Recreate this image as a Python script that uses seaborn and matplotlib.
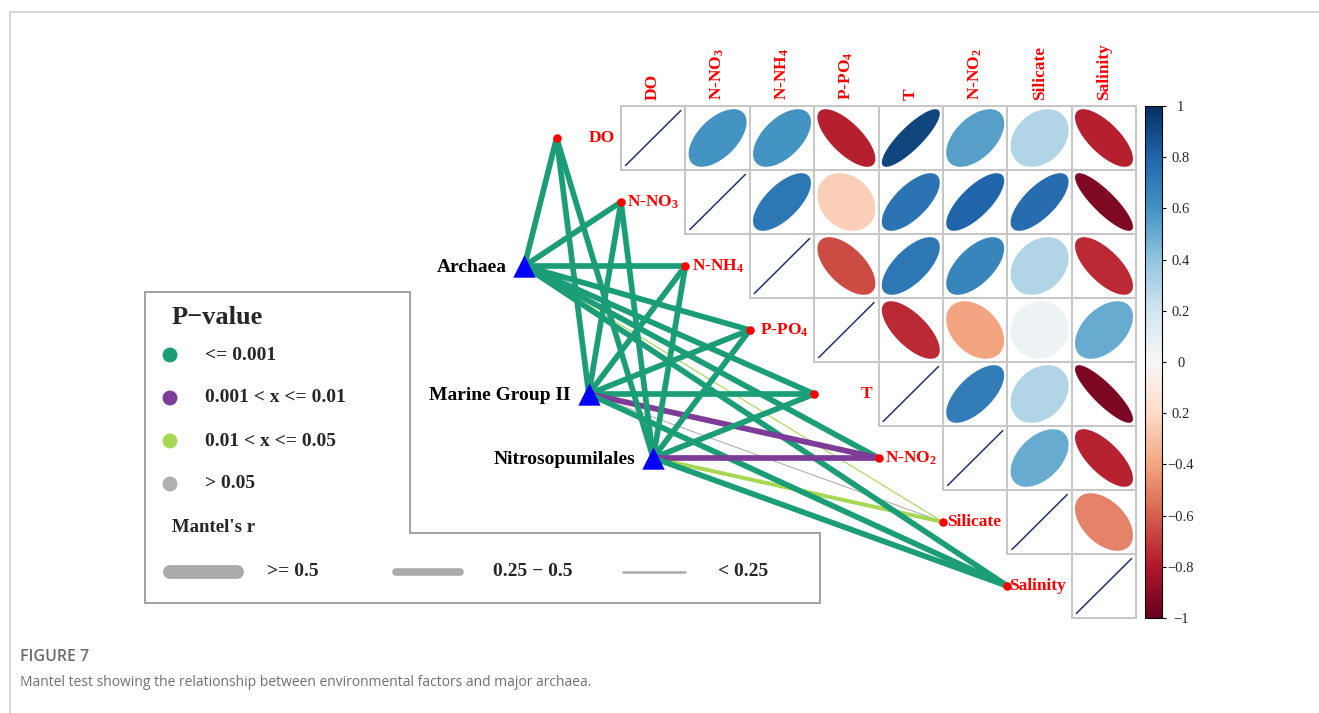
import numpy as np
import pandas as pd
import matplotlib
matplotlib.use("Agg")
import matplotlib.pyplot as plt
import seaborn as sns
from matplotlib.patches import Polygon, Rectangle
from matplotlib.colors import Normalize
from matplotlib.cm import ScalarMappable

# ---------------------------------------------------------------- data
env_vars = ["DO", "N-NO3", "N-NH4", "P-PO4", "T", "N-NO2", "Silicate", "Salinity"]
env_labels = ["DO", r"N-NO$_3$", r"N-NH$_4$", r"P-PO$_4$", "T", r"N-NO$_2$",
              "Silicate", "Salinity"]

# correlations among environmental factors, upper triangle by row (diagonal excluded)
corr_upper = [
    [0.60, 0.60, -0.78, 0.92, 0.55, 0.30, -0.78],
    [0.72, -0.25, 0.74, 0.80, 0.77, -0.93],
    [-0.65, 0.72, 0.66, 0.30, -0.75],
    [-0.75, -0.40, 0.05, 0.50],
    [0.70, 0.30, -0.94],
    [0.50, -0.77],
    [-0.50],
]

taxa = ["Archaea", "Marine Group II", "Nitrosopumilales"]

# Mantel statistics: taxa (rows) x environmental factors (columns)
mantel_r = [
    [0.62, 0.58, 0.66, 0.55, 0.60, 0.52, 0.18, 0.57],
    [0.55, 0.60, 0.58, 0.56, 0.63, 0.51, 0.12, 0.60],
    [0.58, 0.61, 0.57, 0.59, 0.55, 0.53, 0.35, 0.62],
]
mantel_p = [
    [0.001, 0.001, 0.001, 0.001, 0.001, 0.001, 0.020, 0.001],
    [0.001, 0.001, 0.001, 0.001, 0.001, 0.004, 0.120, 0.001],
    [0.001, 0.001, 0.001, 0.001, 0.001, 0.003, 0.030, 0.001],
]

p_labels = ["<= 0.001", "0.001 < x <= 0.01", "0.01 < x <= 0.05", "> 0.05"]
p_colors = ["#1b9e77", "#7d3c98", "#a6d854", "#b0b0b0"]
r_labels = [">= 0.5", "0.25 \u2212 0.5", "< 0.25"]

cbar_ticks = [1, 0.8, 0.6, 0.4, 0.2, 0, -0.2, -0.4, -0.6, -0.8, -1]
cbar_ticklabels = ["1", "0.8", "0.6", "0.4", "0.2", "0", "0.2",
                   "\u22120.4", "\u22120.6", "\u22120.8", "\u22121"]

# ---------------------------------------------------------------- style
sns.set_theme(style="white")
plt.rcParams["font.family"] = ["Liberation Serif", "DejaVu Serif"]
plt.rcParams["mathtext.fontset"] = "custom"
plt.rcParams["mathtext.rm"] = "Liberation Serif:bold"
plt.rcParams["mathtext.it"] = "Liberation Serif:bold:italic"
plt.rcParams["mathtext.bf"] = "Liberation Serif:bold"

W, H = 1319, 713
fig = plt.figure(figsize=(W / 100, H / 100), dpi=100)
ax = fig.add_axes([0, 0, 1, 1])

# layout of the correlation grid (pixel units, y downward)
X0, Y0, CW, CH = 621.0, 106.0, 64.4, 64.0
n = len(env_vars)
taxa_col = [-1.5, -0.5, 0.5]
taxa_row = [2, 4, 5]

corr = np.eye(n)
for i, row in enumerate(corr_upper):
    for k, v in enumerate(row):
        j = i + 1 + k
        corr[i, j] = corr[j, i] = v

cmap = plt.get_cmap("RdBu")
norm = Normalize(-1, 1)

# ---------------------------------------------------------------- correlation triangle
t = np.linspace(0, 2 * np.pi, 120)
for i in range(n):
    for j in range(i, n):
        x_l = X0 + j * CW
        y_t = Y0 + i * CH
        ax.add_patch(Rectangle((x_l, y_t), CW, CH, facecolor="white",
                               edgecolor="#c6c6c6", lw=1.4, zorder=1))
        cx, cy = x_l + CW / 2, y_t + CH / 2
        if i == j:
            m = 0.07
            ax.plot([x_l + m * CW, x_l + (1 - m) * CW],
                    [y_t + (1 - m) * CH, y_t + m * CH],
                    color="#1f3370", lw=1.1, zorder=2)
            continue
        r = corr[i, j]
        # ellipse flattening grows with |r|, tilt follows the sign
        d = np.arccos(0.92 * r)
        ex = np.cos(t + d / 2) * 0.45 * CW
        ey = np.cos(t - d / 2) * 0.45 * CH
        ax.add_patch(Polygon(np.column_stack([cx + ex, cy - ey]), closed=True,
                             facecolor=cmap(norm(r)), edgecolor="none", zorder=2))

# column labels
for j, lab in enumerate(env_labels):
    ax.text(X0 + (j + 0.5) * CW, Y0 - 6, lab, rotation=90, ha="center", va="bottom",
            color="red", fontsize=12.5, fontweight="bold")

# ---------------------------------------------------------------- Mantel links
env_x = [X0 + (i - 1) * CW for i in range(n)]
env_y = [Y0 + (i + 0.5) * CH for i in range(n)]
tx = [X0 + c * CW for c in taxa_col]
ty = [Y0 + (r + 0.5) * CH for r in taxa_row]


def p_color(p):
    if p <= 0.001:
        return p_colors[0]
    if p <= 0.01:
        return p_colors[1]
    if p <= 0.05:
        return p_colors[2]
    return p_colors[3]


def r_width(r):
    if r >= 0.5:
        return 4.1
    if r >= 0.25:
        return 2.9
    return 0.8


links = []
for a in range(len(taxa)):
    for e in range(n):
        links.append((r_width(mantel_r[a][e]), a, e))
links.sort(key=lambda z: z[0])
for w, a, e in links:
    ax.plot([tx[a], env_x[e]], [ty[a], env_y[e]], color=p_color(mantel_p[a][e]),
            lw=w, solid_capstyle="butt", zorder=3)

env_df = pd.DataFrame({"x": env_x, "y": env_y, "name": env_vars})
taxa_df = pd.DataFrame({"x": tx, "y": ty, "name": taxa})
sns.scatterplot(data=env_df, x="x", y="y", color="red", s=38, linewidth=0,
                ax=ax, zorder=5, legend=False)
sns.scatterplot(data=taxa_df, x="x", y="y", color="blue", marker="^", s=260,
                linewidth=0, ax=ax, zorder=5, legend=False)

for i, lab in enumerate(env_labels):
    ax.text(X0 + i * CW - 6, env_y[i], lab, ha="right", va="center",
            color="red", fontsize=12.5, fontweight="bold", zorder=6)
for k, lab in enumerate(taxa):
    ax.text(tx[k] - 18, ty[k] + 1, lab, ha="right", va="center",
            color="black", fontsize=14, fontweight="bold", zorder=6)

# ---------------------------------------------------------------- legend panel
ax.add_patch(Polygon([(145, 292), (410, 292), (410, 533), (820, 533), (820, 603),
                      (145, 603)], closed=True, facecolor="none",
                     edgecolor="#9a9a9a", lw=1.3, zorder=1))
ax.text(172, 317, "P\u2212value", ha="left", va="center", fontsize=19,
        fontweight="bold")
leg_y = [355, 398, 441, 484]
ax.scatter([170] * 4, leg_y, s=115, c=p_colors, linewidths=0, zorder=4)
for yy, lab in zip(leg_y, p_labels):
    ax.text(205, yy, lab, ha="left", va="center", fontsize=14, fontweight="bold")

ax.text(172, 527, "Mantel's r", ha="left", va="center", fontsize=13.5,
        fontweight="bold")
for (x1, x2, tx_lab), lw, lab in zip([(165, 242, 267), (393, 463, 493), (622, 686, 718)],
                                      [10.0, 5.5, 1.8], r_labels):
    ax.plot([x1 + lw * 0.5, x2 - lw * 0.5], [572, 572], color="#aaaaaa", lw=lw,
            solid_capstyle="round")
    ax.text(tx_lab, 572, lab, ha="left", va="center", fontsize=14,
            fontweight="bold")

# ---------------------------------------------------------------- frame and caption
ax.plot([9.5, W], [12, 12], color="#d2d2d2", lw=1.3)
ax.plot([9.5, 9.5], [12, H], color="#d2d2d2", lw=1.3)
ax.text(20, 657, "FIGURE 7", ha="left", va="center", fontsize=11.5,
        family=["Open Sans", "DejaVu Sans"], fontweight="semibold", color="#6b6b6b")
ax.text(20, 683, "Mantel test showing the relationship between environmental "
        "factors and major archaea.", ha="left", va="center", fontsize=10,
        family=["Open Sans", "DejaVu Sans"], color="#707070")

ax.set_xlim(0, W)
ax.set_ylim(H, 0)
ax.axis("off")

# ---------------------------------------------------------------- colour bar
cax = fig.add_axes([1145 / W, 1 - 618 / H, 17 / W, 512 / H])
cb = fig.colorbar(ScalarMappable(norm=norm, cmap=cmap), cax=cax)
cb.outline.set_linewidth(0.8)
cb.outline.set_edgecolor("black")
cax.set_yticks(cbar_ticks)
cax.set_yticklabels(cbar_ticklabels)
cax.tick_params(axis="y", length=3, width=0.8, color="black", pad=10.5,
                labelsize=10.5, right=True, left=False)
for lbl in cax.get_yticklabels():
    lbl.set_horizontalalignment("center")

fig.savefig("out.png", dpi=100)
